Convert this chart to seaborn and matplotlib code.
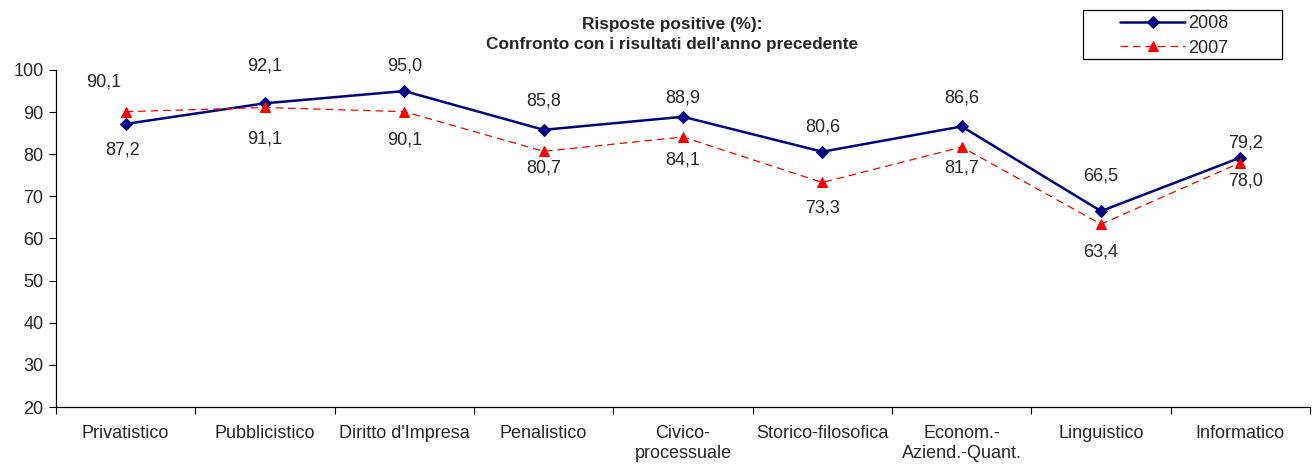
import matplotlib
matplotlib.use("Agg")
import matplotlib.pyplot as plt
from matplotlib.patches import Rectangle
import seaborn as sns
import pandas as pd
import numpy as np

categories = ["Privatistico", "Pubblicistico", "Diritto d'Impresa", "Penalistico",
              "Civico-\nprocessuale", "Storico-filosofica", "Econom.-\nAziend.-Quant.",
              "Linguistico", "Informatico"]
values_2008 = [87.2, 92.1, 95.0, 85.8, 88.9, 80.6, 86.6, 66.5, 79.2]
values_2007 = [90.1, 91.1, 90.1, 80.7, 84.1, 73.3, 81.7, 63.4, 78.0]
y_ticks = [20, 30, 40, 50, 60, 70, 80, 90, 100]

sns.set_theme(style="white")
plt.rcParams['font.family'] = ['Liberation Sans', 'DejaVu Sans']

df = pd.DataFrame({
    "pos": list(range(len(categories))) * 2,
    "val": values_2008 + values_2007,
    "serie": ["2008"] * len(categories) + ["2007"] * len(categories),
})

FS = 13
W, H = 1314, 465
fig = plt.figure(figsize=(W / 100, H / 100), dpi=100)
ax = fig.add_axes([56/W, 1 - 407/H, (1310-56)/W, (407-70)/H])

sns.lineplot(data=df[df.serie == "2008"], x="pos", y="val", ax=ax, color="#000080",
             lw=1.8, marker="D", markersize=6, markeredgecolor="#000080", label="2008")
sns.lineplot(data=df[df.serie == "2007"], x="pos", y="val", ax=ax, color="#ff0000",
             lw=0.9, linestyle=(0, (6, 4)), marker="^", markersize=7.5,
             markeredgecolor="#ff0000", label="2007")

ax.set_xlim(-0.5, len(categories) - 0.5)
ax.set_ylim(20, 100)
ax.set_yticks(y_ticks)
ax.set_yticklabels([str(t) for t in y_ticks], fontsize=FS)
ax.set_xticks(np.arange(len(categories) + 1) - 0.5)
ax.set_xticklabels([])
ax.set_xticks(np.arange(len(categories)), minor=True)
ax.set_xticklabels(categories, minor=True, fontsize=FS, va="top", linespacing=1.25)
ax.tick_params(axis="x", which="minor", length=0, pad=13)
ax.tick_params(axis="x", which="major", length=5, direction="out", width=0.8, color="black", bottom=True)
ax.tick_params(axis="y", length=5, direction="out", width=0.8, color="black", left=True, pad=4)
ax.set_xlabel("")
ax.set_ylabel("")
for s in ["top", "right"]:
    ax.spines[s].set_visible(False)
for s in ["left", "bottom"]:
    ax.spines[s].set_color("black")
    ax.spines[s].set_linewidth(0.9)

# label offsets in pixels (upper label, lower label)
up_off = [30, 37, 25, 29, 19, 25, 28, 35, 15]
dn_off = [26, 32, 28, 17, 23, 26, 21, 28, 18]
up_dx = [-22, 0, 0, 0, 0, 0, 0, 0, 5]
dn_dx = [-3, 0, 0, 0, 0, 0, 0, 0, 5]
px = 72 / 100
for i in range(len(categories)):
    a, b = values_2008[i], values_2007[i]
    hi, lo = (a, b) if a >= b else (b, a)
    ax.annotate(f"{hi:.1f}".replace(".", ","), (i, hi), xytext=(up_dx[i]*px, up_off[i]*px),
                textcoords="offset points", ha="center", va="center", fontsize=FS)
    ax.annotate(f"{lo:.1f}".replace(".", ","), (i, lo), xytext=(dn_dx[i]*px, -dn_off[i]*px),
                textcoords="offset points", ha="center", va="center", fontsize=FS)

fig.text(672/W, 1 - 25/H, "Risposte positive (%):", ha="center", va="center",
         fontsize=12.4, fontweight="bold")
fig.text(672/W, 1 - 45/H, "Confronto con i risultati dell'anno precedente", ha="center",
         va="center", fontsize=12.4, fontweight="bold")

# legend box
fig.patches.append(Rectangle((1083/W, 1 - 59/H), (1282-1083)/W, (59-10)/H,
                             transform=fig.transFigure, fill=False, edgecolor="black",
                             linewidth=0.9, zorder=5))
leg = ax.legend(loc="upper left", bbox_to_anchor=(1120/W, 1 - 15/H), bbox_transform=fig.transFigure,
                frameon=False, fontsize=FS, handlelength=3.6, borderpad=0,
                labelspacing=0.42, handletextpad=0.2, borderaxespad=0)
fig.savefig("out.png", dpi=100)
